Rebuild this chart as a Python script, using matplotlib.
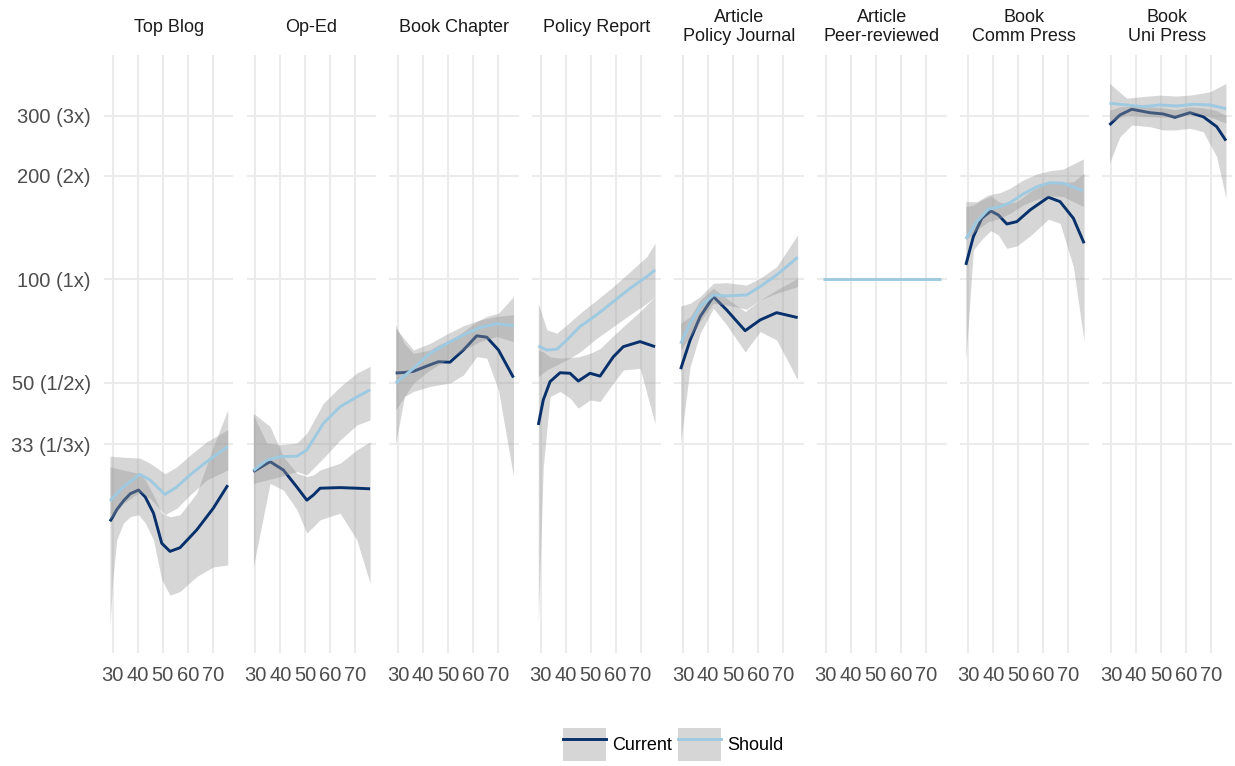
import matplotlib
matplotlib.use("Agg")
import matplotlib.pyplot as plt
from matplotlib.patches import Patch
from matplotlib.lines import Line2D
from matplotlib.ticker import NullLocator, FixedLocator, FixedFormatter

plt.rcParams['font.family'] = ['Liberation Sans', 'DejaVu Sans']

# ---------------- data ----------------
facet_labels = ["Top Blog", "Op-Ed", "Book Chapter", "Policy Report",
                "Article\nPolicy Journal", "Article\nPeer-reviewed",
                "Book\nComm Press", "Book\nUni Press"]

y_breaks = [33, 50, 100, 200, 300]
y_labels = ["33 (1/3x)", "50 (1/2x)", "100 (1x)", "200 (2x)", "300 (3x)"]
x_breaks = [30, 40, 50, 60, 70]

# Top Blog
blog_cur_age = [28.9, 30.0, 31.6, 34.3, 37.0, 40.3, 43.0, 46.3, 49.6, 52.9, 56.9, 63.6, 70.2, 76.0]
blog_cur_mid = [19.7, 20.3, 21.3, 22.6, 23.7, 24.3, 23.2, 20.8, 17.0, 16.1, 16.5, 18.6, 21.5, 25.1]
blog_cur_hi = [28.4, 28.3, 28.1, 27.8, 27.5, 27.2, 26.0, 23.5, 20.8, 20.3, 20.6, 23.8, 32.5, 41.6]
blog_cur_lo = [9.8, 13.3, 17.4, 19.5, 20.3, 20.6, 19.5, 17.4, 13.3, 12.0, 12.3, 13.6, 14.5, 14.7]
blog_sh_age = [28.9, 34.2, 40.9, 44.9, 50.9, 55.6, 60.9, 67.6, 76.0]
blog_sh_mid = [22.6, 24.8, 27.0, 26.0, 23.6, 24.8, 26.9, 29.4, 32.5]
blog_sh_hi = [30.5, 30.3, 30.1, 29.1, 27.1, 28.4, 30.7, 33.6, 36.4]
blog_sh_lo = [19.9, 22.2, 24.0, 23.0, 20.6, 21.5, 23.5, 26.0, 27.8]

# Op-Ed
oped_cur_age = [29.2, 35.9, 41.2, 46.6, 50.6, 53.2, 55.9, 63.9, 70.6, 75.9]
oped_cur_mid = [27.5, 29.4, 27.8, 24.8, 22.7, 23.5, 24.6, 24.7, 24.6, 24.5]
oped_cur_hi = [40.7, 37.2, 30.4, 27.2, 26.6, 26.9, 27.8, 29.1, 31.8, 33.6]
oped_cur_lo = [14.5, 25.4, 24.3, 21.3, 18.2, 19.0, 19.9, 20.8, 17.4, 13.0]
oped_sh_age = [29.2, 34.6, 39.9, 46.6, 50.6, 57.2, 63.9, 70.6, 75.9]
oped_sh_mid = [27.7, 29.7, 30.4, 30.5, 31.8, 38.0, 42.5, 45.4, 47.6]
oped_sh_hi = [40.2, 33.3, 32.9, 33.3, 35.6, 43.5, 48.6, 53.3, 55.7]
oped_sh_lo = [25.4, 26.0, 26.6, 27.5, 26.9, 30.1, 34.0, 37.6, 38.9]

# Book Chapter
chap_cur_age = [29.1, 32.6, 36.2, 42.8, 46.2, 50.8, 56.2, 61.5, 65.5, 70.2, 76.2]
chap_cur_mid = [53.3, 53.5, 53.9, 56.3, 57.5, 57.3, 62.2, 68.4, 67.8, 62.2, 51.7]
chap_cur_hi = [73.6, 64.9, 60.8, 62.2, 64.4, 66.5, 70.4, 75.2, 77.9, 79.6, 89.0]
chap_cur_lo = [33.2, 45.5, 47.1, 48.7, 49.2, 49.8, 52.6, 59.5, 58.9, 47.6, 26.6]
chap_sh_age = [29.1, 36.2, 42.8, 49.5, 56.2, 62.8, 69.5, 76.2]
chap_sh_mid = [49.8, 55.0, 60.8, 64.9, 68.8, 72.3, 74.2, 73.2]
chap_sh_hi = [71.9, 62.2, 65.0, 69.2, 73.2, 76.1, 77.9, 78.8]
chap_sh_lo = [41.6, 49.8, 54.4, 58.2, 62.2, 65.8, 68.1, 65.8]

# Policy Report
pol_cur_age = [29.1, 31.1, 33.8, 37.8, 41.8, 45.1, 49.8, 53.8, 59.1, 63.1, 69.8, 75.8]
pol_cur_mid = [37.6, 44.5, 50.3, 53.4, 53.2, 50.5, 53.2, 52.2, 59.4, 63.6, 65.8, 63.6]
pol_cur_hi = [62.2, 61.4, 59.4, 58.9, 59.2, 59.4, 60.8, 62.8, 68.4, 72.8, 80.5, 89.0]
pol_cur_lo = [10.0, 28.5, 45.5, 47.1, 45.0, 42.1, 44.5, 44.0, 49.8, 54.4, 55.0, 38.0]
pol_sh_age = [29.1, 32.5, 36.5, 40.5, 45.8, 52.5, 59.1, 65.8, 72.5, 75.8]
pol_sh_mid = [63.9, 62.2, 62.5, 66.5, 72.8, 78.8, 86.0, 94.1, 101.8, 106.4]
pol_sh_hi = [85.1, 71.2, 69.6, 73.6, 79.6, 87.0, 95.2, 105.2, 116.4, 127.3]
pol_sh_lo = [52.0, 54.4, 56.3, 58.2, 61.4, 67.3, 72.8, 78.8, 85.1, 89.0]

# Article Policy Journal
apj_cur_age = [29.0, 32.8, 36.8, 42.1, 47.4, 54.8, 60.8, 67.4, 75.8]
apj_cur_mid = [54.7, 66.5, 77.8, 89.0, 81.4, 70.8, 76.1, 79.9, 77.3]
apj_cur_hi = [74.4, 77.8, 87.0, 94.1, 88.0, 80.5, 87.0, 93.1, 100.7]
apj_cur_lo = [33.2, 55.6, 69.6, 82.3, 73.6, 61.4, 70.4, 66.5, 50.9]
apj_sh_age = [29.0, 32.8, 36.8, 42.1, 47.4, 55.4, 60.8, 67.4, 75.8]
apj_sh_mid = [64.9, 74.4, 83.2, 90.0, 89.4, 90.0, 95.2, 102.9, 115.9]
apj_sh_hi = [83.6, 85.1, 89.0, 97.3, 97.7, 96.2, 100.7, 108.8, 134.6]
apj_sh_lo = [62.2, 68.0, 75.2, 85.1, 84.2, 81.8, 87.0, 91.0, 95.2]

# Article Peer-reviewed
apr_sh_age = [29.0, 76.0]
apr_sh_mid = [100.0, 100.0]

# Book Comm Press
comm_cur_age = [29.0, 32.0, 35.4, 39.0, 42.0, 45.4, 49.4, 54.7, 62.0, 66.7, 72.0, 76.3]
comm_cur_mid = [110.1, 133.1, 150.6, 158.1, 153.9, 144.9, 147.2, 159.2, 173.4, 168.3, 150.6, 127.3]
comm_cur_hi = [162.8, 164.6, 170.3, 174.9, 168.3, 165.8, 168.3, 180.0, 192.5, 191.2, 192.5, 203.7]
comm_cur_lo = [58.2, 121.7, 130.8, 138.6, 134.6, 123.1, 125.0, 133.7, 149.6, 145.6, 108.8, 65.8]
comm_sh_age = [29.0, 33.4, 38.0, 42.7, 46.7, 52.0, 57.4, 62.7, 68.0, 76.0]
comm_sh_mid = [131.1, 147.2, 160.0, 162.8, 167.2, 177.3, 186.1, 191.2, 190.5, 181.2]
comm_sh_hi = [168.3, 168.3, 176.1, 178.8, 184.2, 194.7, 202.7, 207.2, 209.6, 224.2]
comm_sh_lo = [130.2, 139.2, 147.2, 150.6, 155.7, 164.6, 171.0, 174.9, 174.1, 162.8]

# Book Uni Press
uni_cur_age = [29.4, 33.6, 38.3, 45.6, 50.9, 55.6, 61.6, 66.9, 72.3, 76.0]
uni_cur_mid = [281.6, 301.2, 312.9, 305.8, 303.2, 296.5, 305.8, 297.7, 278.4, 253.5]
uni_cur_hi = [311.0, 318.0, 320.0, 318.0, 316.0, 312.0, 318.0, 316.0, 310.0, 300.0]
uni_cur_lo = [217.8, 260.3, 281.6, 278.4, 272.3, 272.3, 275.4, 269.2, 227.7, 172.2]
uni_sh_age = [29.4, 36.3, 43.0, 49.6, 56.3, 63.0, 69.6, 76.0]
uni_sh_mid = [325.8, 322.1, 318.4, 322.1, 319.9, 323.6, 322.1, 314.2]
uni_sh_hi = [372.5, 337.0, 341.0, 344.0, 342.0, 345.0, 352.0, 372.0]
uni_sh_lo = [288.0, 301.0, 298.0, 297.0, 296.5, 304.6, 297.7, 285.0]

series_names = ["Current", "Should"]
series_colors = {"Current": "#08306B", "Should": "#9ECAE1"}

panels = [
    {"Current": (blog_cur_age, blog_cur_mid, blog_cur_lo, blog_cur_hi),
     "Should": (blog_sh_age, blog_sh_mid, blog_sh_lo, blog_sh_hi)},
    {"Current": (oped_cur_age, oped_cur_mid, oped_cur_lo, oped_cur_hi),
     "Should": (oped_sh_age, oped_sh_mid, oped_sh_lo, oped_sh_hi)},
    {"Current": (chap_cur_age, chap_cur_mid, chap_cur_lo, chap_cur_hi),
     "Should": (chap_sh_age, chap_sh_mid, chap_sh_lo, chap_sh_hi)},
    {"Current": (pol_cur_age, pol_cur_mid, pol_cur_lo, pol_cur_hi),
     "Should": (pol_sh_age, pol_sh_mid, pol_sh_lo, pol_sh_hi)},
    {"Current": (apj_cur_age, apj_cur_mid, apj_cur_lo, apj_cur_hi),
     "Should": (apj_sh_age, apj_sh_mid, apj_sh_lo, apj_sh_hi)},
    {"Should": (apr_sh_age, apr_sh_mid, None, None)},
    {"Current": (comm_cur_age, comm_cur_mid, comm_cur_lo, comm_cur_hi),
     "Should": (comm_sh_age, comm_sh_mid, comm_sh_lo, comm_sh_hi)},
    {"Current": (uni_cur_age, uni_cur_mid, uni_cur_lo, uni_cur_hi),
     "Should": (uni_sh_age, uni_sh_mid, uni_sh_lo, uni_sh_hi)},
]

# ---------------- layout ----------------
W, H = 1235, 766
fig = plt.figure(figsize=(W / 100, H / 100), dpi=100)

panel_left0 = 104.0
panel_step = 142.6
panel_w = 129.5
panel_top = 55.0
panel_bot = 653.0
xlim = (26.5, 78.3)
ylim = (8.14, 450.4)

grid_c = "#EBEBEB"
ribbon_c = "#999999"

for i, (label, pdata) in enumerate(zip(facet_labels, panels)):
    left = panel_left0 + i * panel_step
    ax = fig.add_axes([left / W, (H - panel_bot) / H, panel_w / W, (panel_bot - panel_top) / H])
    ax.set_yscale("log")
    ax.set_xlim(*xlim)
    ax.set_ylim(*ylim)
    for s in ax.spines.values():
        s.set_visible(False)
    ax.yaxis.set_major_locator(FixedLocator(y_breaks))
    ax.yaxis.set_minor_locator(NullLocator())
    ax.xaxis.set_major_locator(FixedLocator(x_breaks))
    ax.xaxis.set_minor_locator(NullLocator())
    ax.grid(True, color=grid_c, lw=1.5, zorder=0)
    ax.set_axisbelow(True)
    ax.tick_params(length=0, colors="#4D4D4D", labelsize=14.5)
    ax.tick_params(axis="x", pad=9.5)
    ax.tick_params(axis="y", pad=9.5)
    if i == 0:
        ax.yaxis.set_major_formatter(FixedFormatter(y_labels))
    else:
        ax.set_yticklabels([])
    ax.set_xticklabels([str(v) for v in x_breaks])

    z = 2
    for name in series_names:
        if name not in pdata:
            continue
        age, mid, lo, hi = pdata[name]
        if lo is not None:
            ax.fill_between(age, lo, hi, color=ribbon_c, alpha=0.4, lw=0, zorder=z)
        ax.plot(age, mid, color=series_colors[name], lw=2.1, zorder=z + 1,
                solid_joinstyle="round", solid_capstyle="butt")
        z += 2

    fig.text((left + panel_w / 2) / W, 1 - 27.0 / H, label, ha="center", va="center",
             fontsize=13, color="#1A1A1A", linespacing=1.2)

# ---------------- legend ----------------
handles = []
for name in series_names:
    handles.append((Patch(facecolor=ribbon_c, alpha=0.4, edgecolor="none"),
                    Line2D([], [], color=series_colors[name], lw=2.1)))
fig.legend(handles, series_names, loc="center", bbox_to_anchor=(673 / W, 1 - 744.5 / H),
           ncol=2, frameon=False, fontsize=13, handlelength=2.38, handleheight=2.38,
           handletextpad=0.33, columnspacing=0.33, borderpad=0, borderaxespad=0)

fig.savefig("out.png", dpi=100)
